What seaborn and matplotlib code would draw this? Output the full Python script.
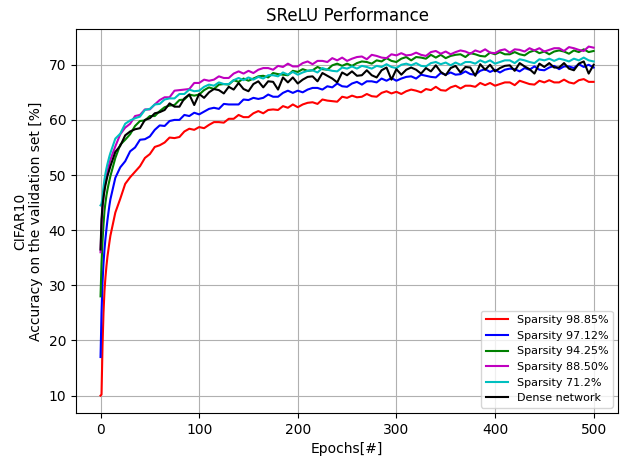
import matplotlib
matplotlib.use("Agg")
import matplotlib.pyplot as plt
import seaborn as sns
import pandas as pd

epochs = list(range(0, 11)) + list(range(15, 501, 5))

labels = ["Sparsity 98.85%", "Sparsity 97.12%", "Sparsity 94.25%",
          "Sparsity 88.50%", "Sparsity 71.2%", "Dense network"]
colors = ["r", "b", "g", "m", "c", "k"]

red = [10.0, 10.2, 19.0, 25.0, 29.0, 31.5, 33.5, 35.2, 36.5, 37.8, 39.0,
       43.2, 45.7, 48.4, 49.6, 50.6, 51.6, 53.1, 53.8, 55.1, 55.4,
       55.9, 56.8, 56.7, 56.9, 57.9, 58.4, 58.2, 58.7, 58.5, 59.1,
       59.6, 59.6, 59.5, 60.2, 60.2, 60.9, 60.5, 60.5, 61.2, 61.6,
       61.2, 61.8, 61.9, 61.8, 62.5, 62.2, 62.8, 62.3, 62.8, 63.1,
       63.2, 62.9, 63.7, 63.5, 63.4, 63.3, 64.2, 64.0, 64.4, 64.1,
       64.2, 64.7, 64.3, 64.2, 64.9, 65.2, 64.8, 65.1, 64.7, 65.2,
       65.5, 65.3, 65.0, 65.6, 65.4, 66.0, 65.4, 65.3, 65.9, 66.2,
       65.7, 66.2, 66.2, 66.0, 66.7, 66.3, 66.7, 66.2, 66.5, 66.8,
       66.8, 66.3, 67.1, 66.8, 66.5, 66.4, 67.1, 66.8, 67.2, 66.8,
       66.8, 67.3, 66.8, 66.6, 67.2, 67.4, 66.9, 66.9]

blue = [17.0, 25.0, 30.5, 34.0, 36.5, 38.5, 40.2, 41.8, 43.2, 44.5, 45.6,
        49.5, 51.4, 52.5, 54.3, 55.0, 56.4, 56.5, 57.0, 58.2, 59.0,
        58.9, 59.8, 60.0, 60.0, 60.9, 60.7, 61.3, 61.0, 61.5, 62.0,
        62.2, 62.0, 62.9, 62.8, 62.8, 62.8, 63.7, 63.6, 64.0, 63.8,
        64.0, 64.6, 64.2, 64.2, 64.9, 65.3, 64.9, 65.3, 65.0, 65.5,
        65.8, 65.8, 65.5, 66.1, 65.9, 66.6, 66.1, 66.0, 66.6, 66.9,
        66.4, 67.0, 67.0, 66.8, 67.5, 67.1, 67.6, 67.1, 67.5, 67.8,
        67.9, 67.5, 68.2, 68.0, 67.8, 67.7, 68.5, 68.2, 68.6, 68.2,
        68.3, 68.8, 68.3, 68.2, 68.9, 69.2, 68.7, 69.1, 68.6, 69.1,
        69.3, 69.2, 68.8, 69.4, 69.1, 69.7, 69.1, 69.0, 69.5, 69.8,
        69.2, 69.7, 69.7, 69.4, 70.1, 69.6, 70.0, 69.5]

green = [28.0, 34.0, 38.0, 41.0, 43.5, 45.0, 46.3, 47.3, 48.2, 49.0, 49.8,
         53.1, 55.5, 56.4, 57.4, 58.9, 59.8, 59.9, 60.7, 60.7, 61.6,
         62.3, 62.6, 62.7, 63.6, 63.7, 64.6, 64.4, 64.6, 65.4, 65.9,
         65.6, 66.4, 66.5, 66.4, 67.2, 66.9, 67.5, 67.1, 67.5, 67.9,
         68.0, 67.7, 68.5, 68.3, 68.2, 68.1, 68.9, 68.7, 69.2, 68.9,
         69.0, 69.6, 69.2, 69.1, 69.9, 70.2, 69.8, 70.2, 69.8, 70.3,
         70.6, 70.5, 70.2, 70.8, 70.6, 71.2, 70.7, 70.5, 71.1, 71.4,
         70.8, 71.4, 71.3, 71.1, 71.8, 71.3, 71.8, 71.2, 71.6, 71.8,
         71.9, 71.4, 72.1, 71.9, 71.6, 71.5, 72.2, 71.9, 72.3, 71.9,
         71.9, 72.3, 71.9, 71.7, 72.3, 72.6, 72.1, 72.4, 71.9, 72.4,
         72.6, 72.4, 72.0, 72.6, 72.3, 72.8, 72.3, 72.5]

magenta = [36.0, 41.0, 44.0, 46.0, 47.5, 48.7, 49.7, 50.6, 51.4, 52.1, 52.8,
           55.2, 57.4, 58.6, 59.3, 60.7, 60.9, 61.9, 61.9, 62.8, 63.6,
           64.1, 64.1, 65.3, 65.4, 65.5, 65.6, 66.7, 66.7, 67.3, 67.1,
           67.3, 67.9, 67.6, 67.6, 68.4, 68.8, 68.4, 68.9, 68.5, 69.1,
           69.4, 69.4, 69.1, 69.8, 69.6, 70.2, 69.7, 69.7, 70.3, 70.6,
           70.1, 70.7, 70.7, 70.5, 71.2, 70.8, 71.3, 70.7, 71.1, 71.4,
           71.5, 71.0, 71.8, 71.6, 71.3, 71.2, 71.9, 71.7, 72.1, 71.7,
           71.8, 72.2, 71.8, 71.6, 72.3, 72.5, 72.0, 72.4, 71.9, 72.3,
           72.6, 72.4, 72.0, 72.6, 72.3, 72.8, 72.2, 72.1, 72.6, 72.8,
           72.2, 72.8, 72.7, 72.4, 73.0, 72.6, 73.0, 72.4, 72.7, 73.0,
           73.0, 72.5, 73.2, 73.0, 72.7, 72.5, 73.3, 73.1]

cyan = [44.5, 44.8, 46.0, 47.8, 49.2, 50.3, 51.2, 52.0, 52.7, 53.4, 54.0,
        56.6, 57.5, 59.3, 59.9, 60.3, 60.6, 61.8, 62.0, 62.8, 62.9,
        63.7, 63.9, 63.9, 64.7, 64.7, 65.5, 65.2, 65.3, 66.0, 66.4,
        66.2, 66.8, 66.5, 66.5, 67.2, 67.6, 67.2, 67.7, 67.3, 67.8,
        67.5, 68.1, 68.1, 67.9, 68.6, 68.2, 68.7, 68.2, 68.6, 68.9,
        69.0, 68.6, 69.4, 69.1, 68.9, 68.8, 69.5, 69.3, 69.7, 69.3,
        69.8, 69.6, 69.3, 69.8, 69.6, 70.1, 69.6, 69.4, 70.0, 70.2,
        69.9, 70.3, 69.8, 69.7, 70.3, 70.5, 70.1, 70.4, 69.9, 70.4,
        70.0, 70.5, 70.5, 70.2, 70.8, 70.4, 70.8, 70.2, 70.5, 70.8,
        70.8, 70.3, 71.0, 70.8, 70.5, 70.3, 71.0, 70.8, 71.1, 70.7,
        71.1, 70.9, 70.6, 71.1, 70.8, 71.3, 70.8, 70.6]

black = [36.5, 42.0, 44.5, 46.0, 47.2, 48.2, 49.0, 49.8, 50.4, 51.0, 51.6,
         54.2, 55.3, 57.2, 57.9, 58.3, 58.5, 60.0, 60.3, 61.2, 61.4,
         61.8, 63.0, 62.4, 62.4, 63.9, 64.6, 62.7, 64.7, 64.0, 65.0,
         65.6, 65.4, 64.8, 66.0, 65.5, 66.7, 65.6, 65.2, 66.5, 67.0,
         65.9, 67.0, 66.9, 65.5, 67.7, 66.8, 67.7, 66.6, 67.3, 67.8,
         67.9, 67.0, 68.5, 68.0, 67.5, 66.8, 68.6, 68.1, 68.8, 68.0,
         68.1, 69.0, 68.1, 67.7, 69.0, 69.5, 67.3, 69.2, 68.2, 69.1,
         69.5, 69.1, 68.4, 69.4, 68.8, 69.9, 68.7, 68.1, 69.4, 69.8,
         68.6, 69.6, 69.5, 68.0, 70.1, 69.1, 70.0, 68.8, 69.4, 69.8,
         69.9, 68.9, 70.3, 69.7, 69.2, 68.4, 70.2, 69.6, 70.3, 69.5,
         69.5, 70.3, 69.3, 69.0, 70.2, 70.6, 68.4, 70.0]

series = [red, blue, green, magenta, cyan, black]

rows = []
for lab, vals in zip(labels, series):
    for e, v in zip(epochs, vals):
        rows.append({"epoch": e, "acc": v, "run": lab})
df = pd.DataFrame(rows)

fig = plt.figure(figsize=(6.22, 4.59), dpi=100)
ax = fig.add_axes([0.122, 0.100, 0.872, 0.837])
sns.lineplot(data=df, x="epoch", y="acc", hue="run", hue_order=labels,
             palette=colors, errorbar=None, linewidth=1.5, ax=ax)
ax.set_xlim(-25, 525)
ax.set_ylim(6.83, 76.5)
ax.set_xticks([0, 100, 200, 300, 400, 500])
ax.set_yticks([10, 20, 30, 40, 50, 60, 70])
ax.grid(True, color="#b0b0b0", linewidth=0.8)
ax.set_axisbelow(True)
ax.tick_params(labelsize=10)
ax.set_title("SReLU Performance", fontsize=12)
ax.set_xlabel("Epochs[#]", fontsize=10)
ax.set_ylabel("CIFAR10\nAccuracy on the validation set [%]", fontsize=10)
leg = ax.legend(loc="lower right", fontsize=8, title=None)
for spine in ax.spines.values():
    spine.set_color("black")
fig.savefig("out.png", dpi=100)
